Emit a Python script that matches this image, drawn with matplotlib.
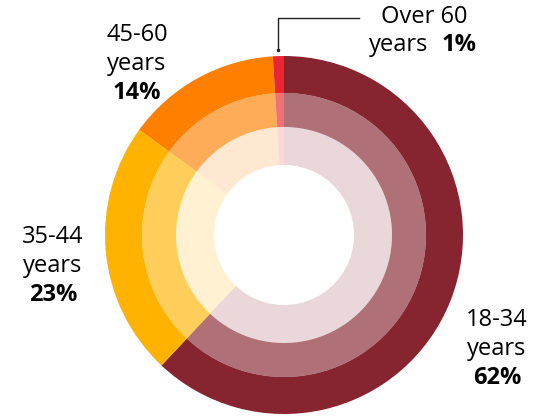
import matplotlib.pyplot as plt

plt.rcParams['font.family'] = ['Open Sans', 'DejaVu Sans']

# age groups, clockwise from 12 o'clock
groups = ['18-34', '35-44', '45-60', 'Over 60']
shares = [62, 23, 14, 1]
colors = ['#86242f', '#ffb300', '#ff8000', '#eb2532']

W, H = 554, 416
fig = plt.figure(figsize=(W / 100, H / 100), dpi=100)
ax = fig.add_axes([0, 0, 1, 1])

cx, cy = 284, H - 235
# three rings: solid outer, then two faded copies inside
rings = [(179, 37, 1.0), (142, 34, 0.65), (108, 38, 0.18)]
for r, w, a in rings:
    wedges, _ = ax.pie(shares, radius=r, center=(cx, cy), startangle=90,
                       counterclock=False, colors=colors,
                       wedgeprops=dict(width=w, linewidth=0, alpha=a))

ax.set_xlim(0, W)
ax.set_ylim(0, H)
ax.set_aspect('equal')
ax.axis('off')

fs = 17
step = 29
# label anchors (centre of first line), image coordinates
spots = {'18-34': (497, 320), '35-44': (53, 237), '45-60': (137, 35)}
for g, s in zip(groups, shares):
    if g not in spots:
        continue
    x, y = spots[g]
    ax.text(x, H - y, g, ha='center', va='center', fontsize=fs)
    ax.text(x, H - y - step, 'years', ha='center', va='center', fontsize=fs)
    ax.text(x, H - y - 2 * step, f'{s}%', ha='center', va='center',
            fontsize=fs, fontweight='bold')

# smallest slice gets a leader line
ax.text(424, H - 17, groups[3], ha='center', va='center', fontsize=fs)
ax.text(428, H - 45, 'years', ha='right', va='center', fontsize=fs)
ax.text(442, H - 45, f'{shares[3]}%', ha='left', va='center', fontsize=fs,
        fontweight='bold')
ax.plot([278, 278, 359], [H - 50, H - 18, H - 18], color='#222222', lw=1)
ax.plot([278], [H - 50], 'o', color='#222222', ms=1.5)

fig.savefig('out.png', dpi=100)
